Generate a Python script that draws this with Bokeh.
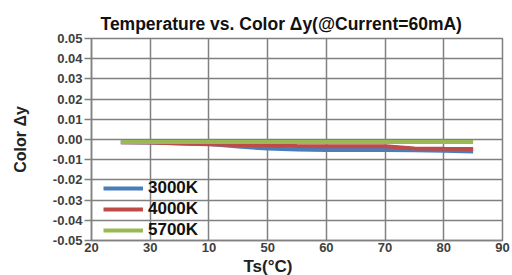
from bokeh.plotting import figure
from bokeh.models import Range1d, FixedTicker, Legend, LegendItem, Title
from bokeh.embed import file_html
from bokeh.resources import INLINE

ts = [25, 30, 35, 40, 45, 50, 55, 60, 65, 70, 75, 80, 85]
dy_3000k = [-0.0013, -0.0015, -0.0018, -0.0022, -0.0035, -0.0045, -0.0050, -0.0052, -0.0052, -0.0052, -0.0053, -0.0056, -0.0060]
dy_4000k = [-0.0013, -0.0015, -0.0020, -0.0024, -0.0027, -0.0030, -0.0032, -0.0033, -0.0033, -0.0034, -0.0044, -0.0046, -0.0047]
dy_5700k = [-0.0012, -0.0012, -0.0012, -0.0012, -0.0012, -0.0012, -0.0012, -0.0012, -0.0012, -0.0012, -0.0012, -0.0012, -0.0012]
series_names = ["3000K", "4000K", "5700K"]
series_colors = ["#4A7EBB", "#BE4B48", "#98B954"]

x_ticks = [20, 30, 40, 50, 60, 70, 80, 90]
x_tick_labels = ["20", "30", "10", "50", "60", "70", "80", "90"]
y_ticks = [-0.05, -0.04, -0.03, -0.02, -0.01, 0.0, 0.01, 0.02, 0.03, 0.04, 0.05]
y_tick_labels = ["-0.05", "-0.04", "-0.03", "-0.02", "-0.01", "0.00", "0.01", "0.02", "0.03", "0.04", "0.05"]

FONT = "Liberation Sans"

p = figure(width=512, height=275, output_backend="svg", toolbar_location=None,
           x_range=Range1d(20, 90), y_range=Range1d(-0.05, 0.05),
           min_border_left=91, min_border_right=10, min_border_top=38, min_border_bottom=34)

p.title.text = "Temperature vs. Color \u0394y(@Current=60mA)"
p.title.align = "left"
p.title.offset = 9
p.title.text_font = FONT
p.title.text_font_size = "17.5px"
p.title.text_font_style = "bold"
p.title.text_color = "#111111"
p.title.standoff = 10

p.outline_line_color = "#808080"
p.outline_line_width = 1.5
p.background_fill_color = "white"
p.border_fill_color = "white"

for ax in (p.xaxis[0], p.yaxis[0]):
    ax.axis_line_color = "#808080"
    ax.axis_line_width = 1.5
    ax.major_tick_line_color = "#808080"
    ax.major_tick_line_width = 1.5
    ax.minor_tick_line_color = None
    ax.major_label_text_font = FONT
    ax.major_label_text_font_style = "bold"
    ax.major_label_text_font_size = "13px"
    ax.major_label_text_color = "#404040"

p.xaxis.ticker = FixedTicker(ticks=x_ticks)
p.xaxis.major_label_overrides = {t: l for t, l in zip(x_ticks, x_tick_labels)}
p.xaxis.major_tick_out = 0
p.xaxis.major_tick_in = 0
p.xaxis.major_label_standoff = 2

p.yaxis.ticker = FixedTicker(ticks=y_ticks)
p.yaxis.major_label_overrides = {t: l for t, l in zip(y_ticks, y_tick_labels)}
p.yaxis.major_tick_out = 7
p.yaxis.major_tick_in = 0
p.yaxis.major_label_standoff = 2
p.yaxis.axis_label = "Color \u0394y"
p.yaxis.axis_label_text_font = FONT
p.yaxis.axis_label_text_font_style = "bold"
p.yaxis.axis_label_text_font_size = "16px"
p.yaxis.axis_label_text_color = "#222222"
p.yaxis.axis_label_standoff = 21

p.xgrid.ticker = FixedTicker(ticks=x_ticks)
p.ygrid.ticker = FixedTicker(ticks=y_ticks)
for g in (p.xgrid[0], p.ygrid[0]):
    g.grid_line_color = "#808080"
    g.grid_line_width = 1.5

renderers = []
for ys, color in zip([dy_3000k, dy_4000k, dy_5700k], series_colors):
    r = p.line(ts, ys, line_color=color, line_width=4)
    renderers.append(r)

legend = Legend(items=[LegendItem(label=n, renderers=[r]) for n, r in zip(series_names, renderers)],
                location=(12, 0), orientation="vertical",
                background_fill_alpha=0, border_line_color=None,
                label_text_font=FONT, label_text_font_style="bold",
                label_text_font_size="17px", label_text_color="#111111",
                glyph_width=40, glyph_height=20, label_height=20, label_standoff=5,
                spacing=1, padding=0, margin=0)
p.add_layout(legend, "center")

xlab = Title(text="Ts(\u00b0C)", align="left", offset=152, text_font=FONT, text_font_style="bold",
             text_font_size="17px", text_color="#222222", standoff=0)
p.add_layout(xlab, "below")

open("out.html", "w").write(file_html(p, INLINE))
